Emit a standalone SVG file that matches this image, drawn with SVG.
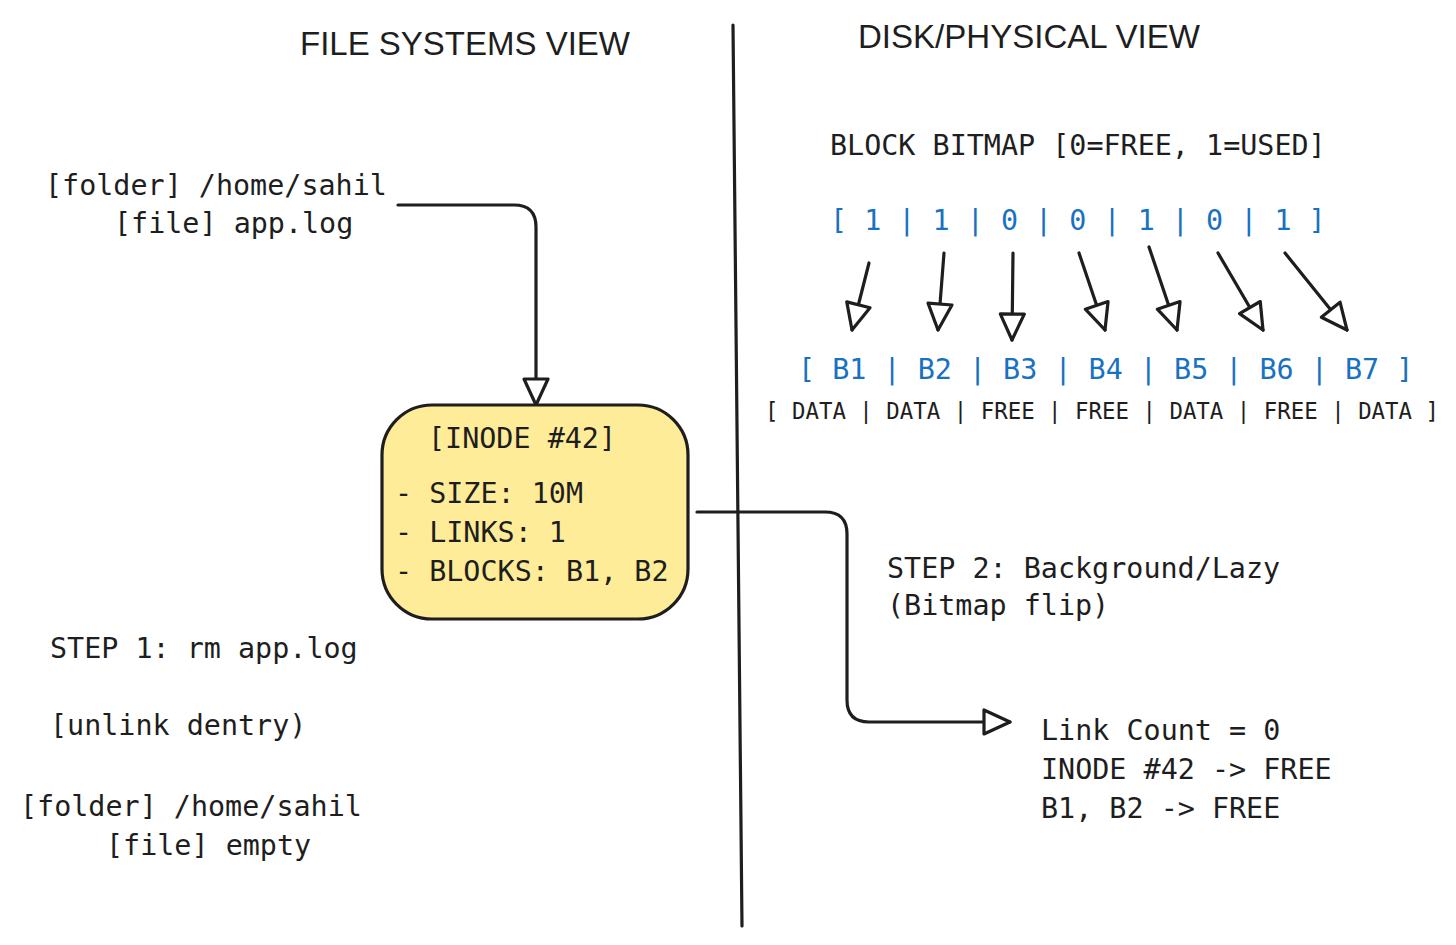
<svg xmlns="http://www.w3.org/2000/svg" width="1456" height="945" viewBox="0 0 1456 945">
<style>
.t{font-family:"DejaVu Sans Mono","Liberation Mono",monospace;font-size:28.4px;fill:#1e1e1e;white-space:pre}
.b{fill:#1971c2}
.s{font-size:22.4px}
.h{font-family:"Liberation Sans","DejaVu Sans",sans-serif;font-size:34px;fill:#1e1e1e}
.ln{fill:none;stroke:#1e1e1e;stroke-width:3.2;stroke-linecap:round;stroke-linejoin:round}
</style>
<defs>
<marker id="tri" viewBox="-30 -15 33 30" refX="0" refY="0" markerWidth="33" markerHeight="30" markerUnits="userSpaceOnUse" orient="auto">
<path d="M0,0 L-26,-12 L-26,12 Z" fill="#ffffff" stroke="#1e1e1e" stroke-width="3.2" stroke-linejoin="round"/>
</marker>
</defs>
<rect width="1456" height="945" fill="#ffffff"/>
<g id="titles">
<text class="h" x="300" y="55" textLength="330" lengthAdjust="spacingAndGlyphs">FILE SYSTEMS VIEW</text>
<text class="h" x="858" y="48" textLength="342" lengthAdjust="spacingAndGlyphs">DISK/PHYSICAL VIEW</text>
</g>
<g id="divider">
<path class="ln" d="M733,25 L742,926"/>
</g>
<g id="connectors">
<path class="ln" d="M398,205 L514,205 Q536,205 536,227 L536,405" marker-end="url(#tri)"/>
<path class="ln" d="M697,512 L825,512 Q847,512 847,534 L847,700 Q847,722 869,722 L1010,722" marker-end="url(#tri)"/>
<path class="ln" d="M869,263 L852,330" marker-end="url(#tri)"/>
<path class="ln" d="M944,253 L938,330" marker-end="url(#tri)"/>
<path class="ln" d="M1013,253 L1012,340" marker-end="url(#tri)"/>
<path class="ln" d="M1079,253 L1105,330" marker-end="url(#tri)"/>
<path class="ln" d="M1149,247 L1177,330" marker-end="url(#tri)"/>
<path class="ln" d="M1218,253 L1263,330" marker-end="url(#tri)"/>
<path class="ln" d="M1285,253 L1347,330" marker-end="url(#tri)"/>
</g>
<g id="fs-before">
<text class="t" x="45" y="195">[folder] /home/sahil</text>
<text class="t" x="114" y="233">[file] app.log</text>
</g>
<g id="inode">
<rect x="382" y="405" width="306" height="214" rx="50" ry="50" fill="#ffec99" stroke="#1e1e1e" stroke-width="3.2"/>
<text class="t" x="428" y="448">[INODE #42]</text>
<text class="t" x="395" y="503">- SIZE: 10M</text>
<text class="t" x="395" y="542">- LINKS: 1</text>
<text class="t" x="395" y="581">- BLOCKS: B1, B2</text>
</g>
<g id="step1">
<text class="t" x="50" y="658">STEP 1: rm app.log</text>
<text class="t" x="50" y="735">[unlink dentry)</text>
</g>
<g id="fs-after">
<text class="t" x="20" y="816">[folder] /home/sahil</text>
<text class="t" x="106" y="855">[file] empty</text>
</g>
<g id="bitmap">
<text class="t" x="830" y="155">BLOCK BITMAP [0=FREE, 1=USED]</text>
<text class="t b" x="830" y="230">[ 1 | 1 | 0 | 0 | 1 | 0 | 1 ]</text>
</g>
<g id="blocks">
<text class="t b" x="798" y="379">[ B1 | B2 | B3 | B4 | B5 | B6 | B7 ]</text>
<text class="t s" x="765" y="419">[ DATA | DATA | FREE | FREE | DATA | FREE | DATA ]</text>
</g>
<g id="step2">
<text class="t" x="887" y="578">STEP 2: Background/Lazy</text>
<text class="t" x="887" y="615">(Bitmap flip)</text>
</g>
<g id="result">
<text class="t" x="1041" y="740">Link Count = 0</text>
<text class="t" x="1041" y="779">INODE #42 -&gt; FREE</text>
<text class="t" x="1041" y="818">B1, B2 -&gt; FREE</text>
</g>
</svg>
